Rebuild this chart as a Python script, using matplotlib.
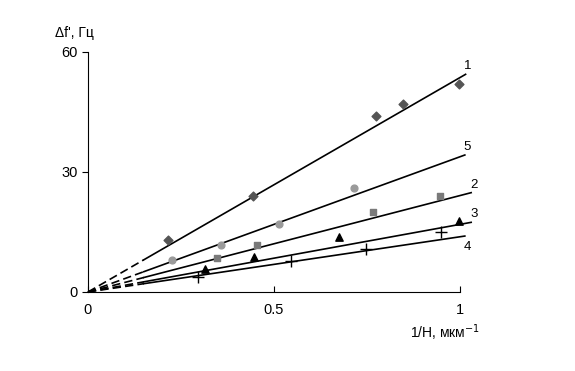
import matplotlib
matplotlib.use("Agg")
import matplotlib.pyplot as plt
import numpy as np

plt.rcParams['font.family'] = ['Liberation Sans', 'DejaVu Sans']

## данные (1/H, мкм^-1 ; Δf, Гц)
x1 = [0.216, 0.444, 0.773, 0.848, 0.998]
y1 = [13.0, 24.0, 44.1, 47.1, 52.0]
x5 = [0.225, 0.357, 0.514, 0.716]
y5 = [8.0, 11.8, 16.9, 26.1]
x2 = [0.346, 0.455, 0.765, 0.946]
y2 = [8.4, 11.8, 19.9, 24.0]
x3 = [0.315, 0.446, 0.676, 0.997]
y3 = [5.7, 8.8, 13.8, 17.7]
x4 = [0.296, 0.545, 0.746, 0.948]
y4 = [3.8, 7.8, 10.8, 14.9]

## наклоны прямых и их правые концы
slopes = [53.6, 33.8, 24.1, 16.9, 13.8]
x_end = [1.015, 1.013, 1.03, 1.03, 1.013]
labels = ['1', '5', '2', '3', '4']
label_dy = [0.5, 0.5, 0.5, 0.5, -1.2]
x_dash = 0.15

fig = plt.figure(figsize=(5.75, 3.71), dpi=100)
ax = fig.add_axes([0.153, 0.213, 0.647, 0.647])

## fitted lines: dashed near zero, solid further on
for k, xe, lab, dy in zip(slopes, x_end, labels, label_dy):
    ax.plot([0, x_dash], [0, k * x_dash], color='black', lw=1.2,
            dashes=(5, 2.5), clip_on=False)
    ax.plot([x_dash, xe], [k * x_dash, k * xe], color='black', lw=1.2,
            clip_on=False)
    ax.text(xe + 0.007, k * xe + dy, lab, fontsize=9.5, ha='center',
            va='bottom' if dy > 0 else 'top')

## points
ax.scatter(x1, y1, marker='D', s=20, color='#555555', zorder=3, clip_on=False)
ax.scatter(x5, y5, marker='o', s=24, color='#9a9a9a', zorder=3, clip_on=False)
ax.scatter(x2, y2, marker='s', s=24, color='#7a7a7a', zorder=3, clip_on=False)
ax.scatter(x3, y3, marker='^', s=28, color='black', zorder=3, clip_on=False)
ax.scatter(x4, y4, marker='+', s=70, color='black', linewidths=1, zorder=3,
           clip_on=False)

ax.set_xlim(0, 1)
ax.set_ylim(0, 60)
ax.set_xticks([0, 0.5, 1])
ax.set_xticklabels(['0', '0.5', '1'])
ax.set_yticks([0, 30, 60])
ax.spines['top'].set_visible(False)
ax.spines['right'].set_visible(False)
ax.tick_params(axis='x', direction='in', length=4, labelsize=10.5, pad=8)
ax.tick_params(axis='y', direction='out', length=4, labelsize=10.5)

fig.text(0.095, 0.893, "Δf', Гц", fontsize=10, ha='left', va='bottom')
fig.text(0.713, 0.102, "1/H, мкм$^{-1}$", fontsize=10, ha='left', va='center')

fig.savefig('out.png', dpi=100)
